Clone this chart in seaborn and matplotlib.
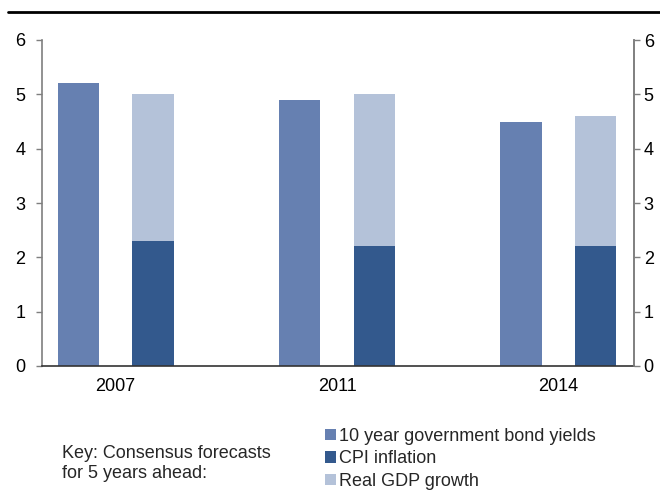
import matplotlib
matplotlib.use("Agg")
import matplotlib.pyplot as plt
import seaborn as sns
import pandas as pd
import numpy as np
from matplotlib.patches import Patch
from matplotlib.lines import Line2D

years = ["2007", "2011", "2014"]
bond_yields = [5.2, 4.9, 4.5]
cpi_inflation = [2.3, 2.2, 2.2]
real_gdp_growth = [2.7, 2.8, 2.4]
series_names = ["10 year government bond yields", "CPI inflation", "Real GDP growth"]
yticks = [0, 1, 2, 3, 4, 5, 6]

c_bond = "#6680B1"
c_cpi = "#33598D"
c_gdp = "#B4C2D9"

sns.set_style("white")
plt.rcParams["font.family"] = ["Liberation Sans", "DejaVu Sans"]
FS = 13

nominal_total = [c + g for c, g in zip(cpi_inflation, real_gdp_growth)]
df_top = pd.DataFrame({
    "year": years * 2,
    "slot": ["bond"] * 3 + ["nominal"] * 3,
    "value": bond_yields + nominal_total,
})
df_cpi = pd.DataFrame({
    "year": years * 2,
    "slot": ["bond"] * 3 + ["nominal"] * 3,
    "value": [0.0] * 3 + cpi_inflation,
})

fig = plt.figure(figsize=(6.6, 4.91), dpi=100)
ax = fig.add_axes([42 / 660, 1 - 366 / 491, (634 - 42) / 660, (366 - 40) / 491])

common = dict(x="year", y="value", hue="slot", hue_order=["bond", "nominal"],
              width=0.676, gap=0.45, linewidth=0, legend=False, ax=ax, errorbar=None,
              saturation=1)
sns.barplot(data=df_top, palette={"bond": c_bond, "nominal": c_gdp}, **common)
sns.barplot(data=df_cpi, palette={"bond": c_bond, "nominal": c_cpi}, **common)

ax.set_xlim(-0.332, 2.341)
ax.set_ylim(0, 6)
ax.set_yticks(yticks)
ax.set_xlabel("")
ax.set_ylabel("")
ax.spines["top"].set_visible(False)
ax.spines["left"].set_color("#7f7f7f")
ax.spines["right"].set_color("#7f7f7f")
ax.spines["bottom"].set_color("#333333")
for s in ["left", "right", "bottom"]:
    ax.spines[s].set_linewidth(1.2)
ax.tick_params(axis="y", which="both", left=True, right=False, direction="out",
               length=4, width=1, color="#7f7f7f", labelsize=FS, pad=8, labelcolor="black")
ax.tick_params(axis="x", length=0, labelsize=FS, pad=8.5, labelcolor="black")

ax2 = ax.twinx()
ax2.set_ylim(0, 6)
ax2.set_yticks(yticks)
for s in ["top", "left", "bottom"]:
    ax2.spines[s].set_visible(False)
ax2.spines["right"].set_color("#7f7f7f")
ax2.spines["right"].set_linewidth(1.2)
ax2.tick_params(axis="y", right=True, direction="out", length=4, width=1,
                color="#7f7f7f", labelsize=FS, pad=3, labelcolor="black")

# top rule
fig.add_artist(Line2D([8 / 660, 1.0], [1 - 12 / 491, 1 - 12 / 491], color="black", lw=2,
                      transform=fig.transFigure))

handles = [Patch(facecolor=c, edgecolor="none") for c in [c_bond, c_cpi, c_gdp]]
fig.legend(handles, series_names, loc="upper left", bbox_to_anchor=(325 / 660, 1 - 428 / 491),
           frameon=False, fontsize=FS, handlelength=0.6, handleheight=0.6,
           handletextpad=0.2, labelspacing=0.3, borderpad=0, borderaxespad=0)

fig.text(62 / 660, 1 - 445 / 491, "Key: Consensus forecasts\nfor 5 years ahead:",
         fontsize=FS, va="top", ha="left", linespacing=1.25)

fig.savefig("out.png", dpi=100)
